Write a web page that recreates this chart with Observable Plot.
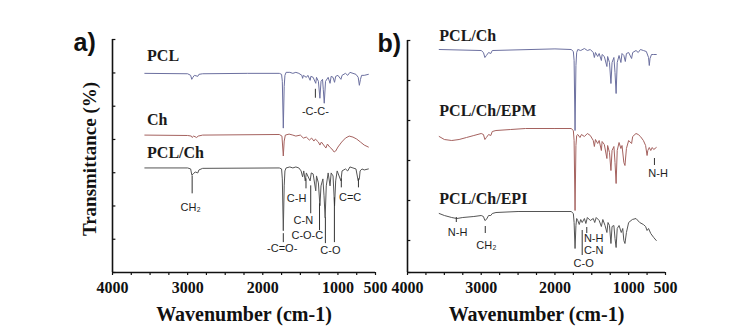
<!DOCTYPE html>
<html>
<head>
<meta charset="utf-8">
<script src="https://cdn.jsdelivr.net/npm/d3@7"></script>
<script src="https://cdn.jsdelivr.net/npm/@observablehq/plot@0.6"></script>
<style>
  html, body { margin: 0; padding: 0; background: #fff; }
  #wrap { position: relative; width: 729px; height: 336px; overflow: hidden; background: #fff; }
  #wrap svg { position: absolute; top: 0; }
</style>
</head>
<body>
<div id="wrap"></div>
<script>
// ---------- Panel a spectra: [wavenumber, transmittance (arb. units)] ----------
const pclA = [[3570,100],[3000,99.8],[2960,99],[2945,97],[2930,98],[2910,99],[2865,98.5],[2850,99.5],[2800,99.8],[2200,100],[1780,100],[1750,99.5],[1740,96],[1727,72.5],[1715,93.5],[1705,99],[1690,100.5],[1640,100.5],[1600,100],[1560,100.5],[1520,100],[1480,99],[1470,97.5],[1460,99],[1420,98],[1400,99],[1370,96.5],[1360,98.5],[1330,98],[1295,95],[1285,98],[1260,96],[1240,87.5],[1225,96],[1205,97],[1195,92],[1182,85],[1165,96],[1130,98],[1105,95],[1090,98.5],[1065,98],[1045,95.5],[1030,98.5],[1000,99],[960,97],[945,99],[900,100],[870,99],[840,100.5],[800,100],[760,99.5],[730,98],[715,94],[700,97],[685,99],[650,99],[595,99.5]];
const chA = [[3570,69],[3000,68.8],[2950,68.5],[2940,67.8],[2920,68.5],[2880,67.8],[2860,68.5],[2800,69],[1780,69.3],[1745,68.5],[1727,58.5],[1715,66],[1700,69],[1650,69.5],[1600,69],[1560,68.5],[1500,69],[1460,67.5],[1420,68],[1380,66.5],[1350,67.5],[1320,66],[1300,67],[1260,65.5],[1240,64],[1220,65.5],[1180,63.5],[1160,62.5],[1140,64.5],[1110,63],[1080,62],[1050,60.5],[1030,61],[1000,63],[950,65.5],[900,67.5],[850,68.5],[800,68],[750,67],[700,65.5],[650,64],[595,63]];
const pclChA = [[3570,52.5],[3000,52.5],[2960,52],[2945,49],[2925,49.5],[2900,50.5],[2865,50],[2850,51.5],[2800,52.3],[1780,52.5],[1750,52],[1740,47],[1727,21],[1715,43.5],[1705,51],[1690,52.5],[1640,53],[1600,52.5],[1560,53],[1520,52.5],[1490,51],[1470,48],[1455,51],[1435,46],[1420,50],[1370,46],[1355,50],[1330,49.5],[1295,41],[1285,48.5],[1260,45],[1240,33.5],[1225,43.5],[1200,47],[1185,38.5],[1170,27.5],[1155,43.5],[1130,50],[1105,43.5],[1090,50],[1065,48.5],[1045,33.5],[1030,46],[1010,51],[960,46],[945,51],[900,52],[870,51],[840,53],[800,52.5],[760,52],[730,46],[715,47],[705,51],[680,52],[650,51.5],[595,52]];

// ---------- Panel b spectra ----------
const pclChB = [[3570,111.5],[3000,111],[2970,110],[2950,107.5],[2930,108.5],[2900,110],[2870,109.5],[2850,111],[2000,111.8],[1780,111.5],[1750,110.5],[1740,106],[1727,71],[1715,103.5],[1705,110],[1690,111.5],[1650,111],[1600,112],[1560,111],[1520,111.5],[1480,110],[1465,107.5],[1450,110],[1420,108],[1400,109.5],[1370,106],[1360,109],[1330,108],[1295,103],[1285,108],[1260,105],[1240,94.5],[1225,105],[1200,107.5],[1185,100],[1170,89.5],[1155,105],[1130,108.5],[1105,105],[1090,109.5],[1065,108.5],[1045,105.5],[1030,109.5],[1000,110],[960,107],[945,110],[900,111],[870,110],[840,111.5],[800,111],[760,110.5],[730,107.5],[720,103.5],[710,107],[690,109],[660,109],[625,109]];
const epmB = [[3570,68],[3500,66.5],[3400,66],[3300,66.5],[3200,67.5],[3100,68.5],[3000,69.5],[2970,69],[2950,66.5],[2930,67.5],[2900,69],[2870,68.5],[2850,70.5],[2800,71],[2600,71.5],[2400,72],[2000,72],[1780,72],[1750,71],[1740,66],[1727,31],[1715,63.5],[1705,68.5],[1690,69],[1660,67.5],[1640,69],[1600,68],[1560,69.5],[1520,68.5],[1480,66],[1465,63],[1450,66.5],[1420,64.5],[1400,66],[1370,61],[1360,65.5],[1330,64],[1295,57],[1285,63.5],[1260,60],[1240,51],[1225,61],[1200,63],[1185,55],[1170,44.5],[1155,61],[1130,65],[1105,62],[1090,63.5],[1065,55],[1050,53.5],[1030,62],[1000,66],[960,64.5],[945,68],[900,69.5],[870,69],[840,68],[800,66],[770,63.5],[750,58.5],[740,61],[720,62.5],[700,61],[680,62.5],[660,61.5],[625,62.5]];
const epiB = [[3570,29.5],[3500,28.5],[3400,27.5],[3330,27],[3250,27.5],[3100,28],[3000,28.5],[2970,28],[2950,26],[2930,26.5],[2900,28.5],[2870,28.5],[2850,29.5],[2800,30],[2500,30.5],[1780,30.5],[1750,29.5],[1740,25],[1727,12],[1715,23.5],[1705,27],[1690,26],[1670,24],[1650,26.5],[1630,25],[1600,27],[1580,24.5],[1560,27.5],[1520,26],[1480,27],[1460,25],[1440,27.5],[1400,26],[1370,23],[1350,26.5],[1320,23.5],[1295,20],[1280,25],[1260,23.5],[1240,14.5],[1225,23],[1200,23.5],[1185,17],[1170,12.5],[1155,22],[1130,23.5],[1100,20],[1080,22],[1065,16],[1050,14.5],[1030,20],[1000,25],[950,26.5],[900,27],[850,25],[800,24],[770,23],[750,21],[730,22],[700,19.5],[660,17.5],[625,16]];

// ---------- Series names ----------
const namesA = [{name: "PCL", wn: 3540, t: 109}, {name: "Ch", wn: 3540, t: 76.5}, {name: "PCL/Ch", wn: 3540, t: 60}];
const namesB = [{name: "PCL/Ch", wn: 3568, t: 118.5}, {name: "PCL/Ch/EPM", wn: 3568, t: 81}, {name: "PCL/Ch/EPI", wn: 3568, t: 37}];

// ---------- Band annotations ----------
const bandLinesA = [
  {wn: 1300, t1: 92, t2: 87.5}, {wn: 2940, t1: 48.5, t2: 39.5}, {wn: 1425, t1: 47, t2: 42},
  {wn: 1362, t1: 43.5, t2: 29.5}, {wn: 1245, t1: 34.5, t2: 21}, {wn: 1167, t1: 27.5, t2: 14.5},
  {wn: 1047, t1: 37.5, t2: 15}, {wn: 1727, t1: 19.5, t2: 15}, {wn: 955, t1: 47, t2: 42.5}, {wn: 727, t1: 47, t2: 42.5}
];
const bandLabelsA = [
  {label: "-C-C-", wn: 1300, t: 81}, {label: "CH₂", wn: 2960, t: 32.5}, {label: "C-H", wn: 1550, t: 37},
  {label: "C-N", wn: 1460, t: 26}, {label: "C-O-C", wn: 1407, t: 18.5}, {label: "C-O", wn: 1100, t: 11},
  {label: "-C=O-", wn: 1742, t: 12}, {label: "C=C", wn: 838, t: 37.5}
];
const bandLinesB = [
  {wn: 650, t1: 57, t2: 53.5}, {wn: 3338, t1: 27.5, t2: 25}, {wn: 2945, t1: 23, t2: 19.5},
  {wn: 1630, t1: 21, t2: 8.5}, {wn: 1568, t1: 22.5, t2: 19.5}
];
const bandLabelsB = [
  {label: "N-H", wn: 600, t: 49.5}, {label: "N-H", wn: 3320, t: 20}, {label: "CH₂", wn: 2930, t: 13.5},
  {label: "C-O", wn: 1610, t: 4.5}, {label: "N-H", wn: 1474, t: 17}, {label: "C-N", wn: 1474, t: 11}
];

// ---------- Axis ticks and titles ----------
const xTickLabels = [4000, 3000, 2000, 1000, 500];
const xMinorTicks = [4000, 3750, 3500, 3250, 3000, 2750, 2500, 2250, 2000, 1750, 1500, 1250, 1000, 750, 500];
const yTicksA = [0, 16.7, 33.4, 50.1, 66.8, 83.5, 100.2, 117];
const yTicksB = [0, 16, 36, 56, 76, 96, 116];
const xTitle = "Wavenumber (cm-1)";
const yTitleA = {text: "Transmittance (%)", wn: 4306, t: 57};

const BLUE = "#6c70a0", RED = "#a5625f", GRAY = "#555555";
const SERIF = "'Liberation Serif', 'Times New Roman', serif";
const SANS = "'Liberation Sans', Arial, sans-serif";

const toPts = arr => arr.map(([w, t]) => ({w, t}));

function panel({left, width, xRange, yDomain, yRange, series, names, lines, labels, yTicks, tag, tagX, yTitle}) {
  const top = yDomain[1];
  const pxPerT = (yRange[0] - yRange[1]) / (yDomain[1] - yDomain[0]);
  const svg = Plot.plot({
    width, height: 336,
    marginLeft: xRange[0], marginRight: width - xRange[1], marginTop: yRange[1], marginBottom: 336 - yRange[0],
    x: {domain: [4000, 500], range: xRange, axis: null},
    y: {domain: yDomain, range: yRange, axis: null},
    style: {background: "transparent", overflow: "visible"},
    marks: [
      ...series.map(s => Plot.line(toPts(s.data), {x: "w", y: "t", stroke: s.color, strokeWidth: 1})),
      Plot.ruleX(lines, {x: "wn", y1: "t1", y2: "t2", stroke: "#333", strokeWidth: 1}),
      Plot.text(labels, {x: "wn", y: "t", text: "label", fontFamily: SANS, fontSize: 11, fill: "#1e1e1e"}),
      Plot.text(names, {x: "wn", y: "t", text: "name", textAnchor: "start", fontFamily: SERIF, fontWeight: "bold", fontSize: 16, fill: "#1a1a1a"}),
      Plot.ruleY(yTicks, {y: d => d, x1: 4000, x2: 3955, stroke: "#111", strokeWidth: 1.2}),
      Plot.ruleX(xMinorTicks, {x: d => d, y1: 0, y2: -3 / pxPerT, stroke: "#111", strokeWidth: 1.2}),
      Plot.ruleX([4000], {y1: 0, y2: top, stroke: "#111", strokeWidth: 1.6}),
      Plot.ruleY([0], {x1: 4000, x2: 500, stroke: "#111", strokeWidth: 1.6}),
      Plot.text(xTickLabels, {x: d => d, y: 0, text: d => String(d), dy: 15, fontFamily: SERIF, fontWeight: "bold", fontSize: 16, fill: "#111"}),
      Plot.text([xTitle], {frameAnchor: "bottom", dy: 48, fontFamily: SERIF, fontWeight: "bold", fontSize: 20, fill: "#111"}),
      Plot.text([tag], {frameAnchor: "top-left", dx: tagX - xRange[0], dy: 11, lineAnchor: "bottom", textAnchor: "start",
        fontFamily: SANS, fontWeight: "bold", fontSize: 25, fill: "#111"}),
      ...(yTitle ? [Plot.text([yTitle], {x: "wn", y: "t", text: "text", rotate: -90, fontFamily: SERIF, fontWeight: "bold", fontSize: 19, fill: "#111"})] : [])
    ]
  });
  svg.style.left = left + "px";
  return svg;
}

const wrap = document.getElementById("wrap");
wrap.appendChild(panel({
  left: 0, width: 385, xRange: [112, 375], yDomain: [0, 117], yRange: [272, 39],
  series: [{data: pclA, color: BLUE}, {data: chA, color: RED}, {data: pclChA, color: GRAY}],
  names: namesA, lines: bandLinesA, labels: bandLabelsA, yTicks: yTicksA, tag: "a)", tagX: 73, yTitle: yTitleA
}));
wrap.appendChild(panel({
  left: 380, width: 349, xRange: [27, 285], yDomain: [0, 116], yRange: [272, 40],
  series: [{data: pclChB, color: BLUE}, {data: epmB, color: RED}, {data: epiB, color: GRAY}],
  names: namesB, lines: bandLinesB, labels: bandLabelsB, yTicks: yTicksB, tag: "b)", tagX: -3, yTitle: null
}));
</script>
</body>
</html>
